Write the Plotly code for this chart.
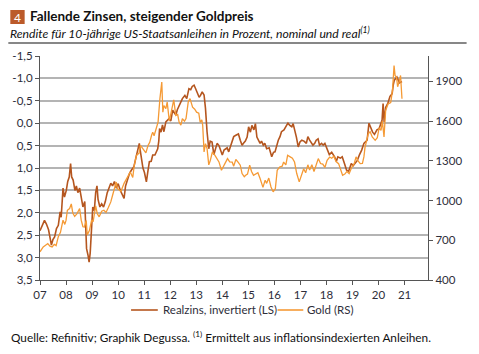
import plotly.graph_objects as go

# ---------------- data ----------------
realzins_dates = [
    "2007-01-01","2007-02-01","2007-03-05","2007-04-01","2007-05-01","2007-06-10","2007-07-01","2007-07-25",
    "2007-08-20","2007-09-15","2007-10-10","2007-10-25","2007-11-20","2007-12-10","2008-01-05","2008-01-25",
    "2008-02-15","2008-03-05","2008-03-20","2008-04-10","2008-05-05","2008-05-25","2008-06-15","2008-07-10",
    "2008-08-05","2008-08-25","2008-09-20","2008-10-15","2008-11-05","2008-11-20","2008-12-05","2008-12-20",
    "2009-01-10","2009-02-01","2009-02-20","2009-03-10","2009-03-25","2009-04-20","2009-05-15","2009-06-10",
    "2009-07-05","2009-08-01","2009-08-25","2009-09-20","2009-10-15","2009-11-10","2009-12-05","2010-01-01",
    "2010-02-01","2010-03-25","2010-04-15","2010-05-10","2010-06-10","2010-07-05","2010-07-25","2010-08-10",
    "2010-09-10","2010-10-10","2010-10-25","2010-11-10","2010-12-15","2011-01-05","2011-02-01","2011-02-20",
    "2011-03-15","2011-04-10","2011-05-01","2011-06-01","2011-06-20","2011-07-10","2011-07-25","2011-08-05",
    "2011-08-25","2011-09-15","2011-10-05","2011-11-01","2011-12-15","2012-01-10","2012-02-05","2012-03-20",
    "2012-04-10","2012-05-05","2012-06-20","2012-07-25","2012-08-20","2012-09-20","2012-10-15","2012-11-05",
    "2012-12-01","2012-12-20","2013-01-15","2013-02-10","2013-03-01","2013-03-25","2013-04-20","2013-05-10",
    "2013-06-01","2013-06-25","2013-07-15","2013-08-10","2013-09-05","2013-09-28","2013-10-20","2013-11-15",
    "2013-12-05","2014-01-01","2014-01-25","2014-02-15","2014-03-10","2014-04-01","2014-05-15","2014-06-10",
    "2014-07-10","2014-08-15","2014-09-10","2014-10-05","2014-10-25","2014-11-20","2014-12-15","2015-01-05",
    "2015-01-30","2015-02-20","2015-03-20","2015-04-10","2015-05-01","2015-06-15","2015-07-05","2015-07-30",
    "2015-08-20","2015-09-15","2015-10-20","2015-11-05","2015-11-25","2015-12-20","2016-01-10","2016-02-25",
    "2016-03-20","2016-04-10","2016-05-15","2016-06-20","2016-07-10","2016-08-05","2016-09-01","2016-09-20",
    "2016-10-15","2016-11-05","2016-12-01","2016-12-25","2017-01-20","2017-02-20","2017-03-25","2017-04-15",
    "2017-05-10","2017-06-25","2017-07-20","2017-08-10","2017-09-05","2017-09-25","2017-10-25","2017-11-15",
    "2017-12-10","2018-01-01","2018-02-10","2018-03-15","2018-04-25","2018-05-20","2018-06-10","2018-07-15",
    "2018-08-10","2018-09-10","2018-10-10","2018-11-08","2018-11-25","2018-12-15","2019-01-10","2019-03-10",
    "2019-04-10","2019-05-10","2019-06-10","2019-07-25","2019-08-20","2019-09-15","2019-10-10","2019-11-05",
    "2019-12-10","2020-01-10","2020-02-20","2020-03-05","2020-03-20","2020-04-10","2020-05-10","2020-06-10",
    "2020-07-10","2020-07-25","2020-08-10","2020-09-15","2020-10-20","2020-11-25",
]
realzins = [
    2.40, 2.30, 2.17, 2.25, 2.38, 2.72, 2.60, 2.54,
    2.35, 2.28, 1.98, 2.10, 1.45, 1.65, 1.50, 1.30,
    1.20, 0.90, 1.20, 1.27, 1.50, 1.40, 1.55, 1.45,
    1.70, 1.87, 1.75, 2.80, 2.95, 3.10, 2.90, 2.30,
    1.87, 1.95, 1.55, 1.40, 1.70, 1.87, 1.80, 1.87,
    1.75, 1.55, 1.45, 1.34, 1.40, 1.30, 1.45, 1.35,
    1.50, 1.68, 1.40, 1.27, 1.12, 1.05, 1.01, 0.97,
    0.75, 0.49, 0.45, 0.64, 1.00, 1.10, 1.31, 1.10,
    0.86, 0.85, 0.71, 0.71, 0.65, 0.57, 0.40, 0.12,
    0.20, 0.04, 0.19, -0.03, -0.10, -0.05, -0.29, -0.18,
    -0.30, -0.40, -0.55, -0.62, -0.55, -0.77, -0.75, -0.82,
    -0.85, -0.78, -0.66, -0.58, -0.62, -0.70, -0.63, -0.33,
    0.19, 0.57, 0.40, 0.42, 0.70, 0.57, 0.45, 0.50,
    0.60, 0.71, 0.60, 0.57, 0.55, 0.64, 0.42, 0.30,
    0.27, 0.24, 0.38, 0.49, 0.45, 0.40, 0.31, 0.08,
    0.20, 0.05, 0.15, 0.01, 0.31, 0.45, 0.40, 0.49,
    0.45, 0.57, 0.55, 0.64, 0.75, 0.65, 0.64, 0.38,
    0.30, 0.19, 0.15, 0.05, 0.00, 0.05, 0.08, 0.01,
    0.15, 0.31, 0.53, 0.42, 0.38, 0.40, 0.45, 0.30,
    0.38, 0.49, 0.45, 0.38, 0.35, 0.49, 0.45, 0.49,
    0.45, 0.53, 0.70, 0.65, 0.75, 0.85, 0.75, 0.78,
    0.75, 0.90, 1.05, 1.07, 1.00, 0.90, 0.95, 0.83,
    0.70, 0.60, 0.45, 0.38, 0.00, 0.12, 0.20, 0.25,
    0.15, 0.12, -0.07, -0.44, -0.03, -0.35, -0.44, -0.60,
    -0.66, -0.85, -0.96, -1.03, -0.90, -0.93,
]

gold_dates = [
    "2007-01-01","2007-02-15","2007-03-20","2007-04-20","2007-05-20","2007-06-20","2007-07-20","2007-08-15",
    "2007-09-15","2007-10-15","2007-11-20","2007-12-15","2008-01-01","2008-01-20","2008-02-20","2008-03-15",
    "2008-04-05","2008-05-01","2008-06-01","2008-07-10","2008-08-01","2008-08-25","2008-09-15","2008-10-10",
    "2008-10-25","2008-11-25","2008-12-25","2009-01-15","2009-02-20","2009-03-15","2009-04-10","2009-05-15",
    "2009-06-15","2009-07-15","2009-08-15","2009-09-20","2009-10-15","2009-11-20","2009-12-05","2009-12-20",
    "2010-01-15","2010-02-10","2010-03-25","2010-04-25","2010-05-20","2010-06-20","2010-07-25","2010-08-15",
    "2010-09-15","2010-10-20","2010-11-10","2010-12-15","2011-01-25","2011-02-25","2011-03-20","2011-04-15",
    "2011-05-01","2011-05-20","2011-06-15","2011-07-15","2011-08-10","2011-08-25","2011-09-05","2011-09-20",
    "2011-10-05","2011-11-01","2011-11-20","2011-12-20","2012-01-15","2012-02-20","2012-03-20","2012-04-15",
    "2012-05-05","2012-05-30","2012-06-20","2012-07-20","2012-08-10","2012-09-10","2012-10-05","2012-11-10",
    "2012-12-10","2013-01-05","2013-02-05","2013-02-25","2013-03-20","2013-04-01","2013-04-20","2013-05-10",
    "2013-06-01","2013-06-25","2013-07-15","2013-08-15","2013-09-20","2013-10-20","2013-11-15","2013-12-20",
    "2014-01-20","2014-02-15","2014-03-15","2014-04-15","2014-05-20","2014-06-10","2014-07-10","2014-08-10",
    "2014-09-10","2014-10-05","2014-11-05","2014-11-25","2014-12-20","2015-01-20","2015-02-15","2015-03-15",
    "2015-04-15","2015-05-15","2015-06-15","2015-07-25","2015-08-25","2015-09-15","2015-10-15","2015-11-15",
    "2015-12-15","2016-01-15","2016-02-10","2016-03-15","2016-04-20","2016-05-10","2016-06-10","2016-07-05",
    "2016-08-10","2016-09-10","2016-10-10","2016-11-10","2016-12-15","2017-01-15","2017-02-15","2017-03-15",
    "2017-04-15","2017-05-10","2017-06-10","2017-07-10","2017-08-15","2017-09-08","2017-10-10","2017-11-10",
    "2017-12-10","2018-01-10","2018-02-15","2018-03-15","2018-04-15","2018-05-15","2018-06-20","2018-07-15",
    "2018-08-15","2018-09-15","2018-10-15","2018-11-15","2018-12-20","2019-01-25","2019-02-20","2019-03-20",
    "2019-04-20","2019-05-20","2019-06-10","2019-06-25","2019-07-20","2019-08-10","2019-09-05","2019-10-05",
    "2019-11-15","2019-12-15","2020-01-10","2020-02-05","2020-02-24","2020-03-18","2020-04-10","2020-05-15",
    "2020-06-20","2020-07-15","2020-08-06","2020-08-20","2020-09-10","2020-09-25","2020-10-15","2020-11-05",
    "2020-11-25",
]
gold = [
    613, 650, 663, 675, 655, 650, 670, 660,
    727, 760, 852, 820, 850, 927, 940, 975,
    905, 880, 900, 940, 852, 802, 800, 850,
    740, 776, 852, 840, 960, 900, 877, 920,
    927, 910, 945, 990, 1040, 1110, 1140, 1090,
    1080, 1070, 1130, 1160, 1175, 1216, 1175, 1266,
    1342, 1357, 1417, 1390, 1360, 1417, 1440, 1493,
    1517, 1490, 1530, 1593, 1770, 1845, 1895, 1668,
    1718, 1694, 1744, 1600, 1668, 1760, 1643, 1650,
    1593, 1570, 1618, 1600, 1620, 1744, 1770, 1706,
    1690, 1668, 1660, 1590, 1610, 1568, 1367, 1430,
    1393, 1270, 1300, 1367, 1342, 1317, 1292, 1229,
    1260, 1292, 1317, 1292, 1290, 1260, 1310, 1291,
    1267, 1204, 1180, 1191, 1200, 1267, 1220, 1191,
    1200, 1210, 1166, 1100, 1154, 1130, 1170, 1103,
    1066, 1090, 1229, 1254, 1260, 1291, 1270, 1342,
    1330, 1320, 1291, 1204, 1141, 1200, 1240, 1210,
    1270, 1230, 1270, 1220, 1280, 1317, 1280, 1275,
    1250, 1304, 1329, 1320, 1335, 1295, 1279, 1240,
    1191, 1200, 1220, 1204, 1250, 1279, 1330, 1300,
    1279, 1280, 1330, 1400, 1455, 1505, 1520, 1480,
    1455, 1475, 1550, 1530, 1600, 1480, 1681, 1731,
    1740, 1832, 2020, 1945, 1930, 1860, 1895, 1945,
    1769,
]

left_ticks = [-1.5, -1.0, -0.5, 0.0, 0.5, 1.0, 1.5, 2.0, 2.5, 3.0, 3.5]
left_ticktext = ["-1,5", "-1,0", "-0,5", "0,0", "0,5", "1,0", "1,5", "2,0", "2,5", "3,0", "3,5"]
right_ticks = [400, 700, 1000, 1300, 1600, 1900]
year_ticks = [f"{y}-01-01" for y in range(2007, 2022)]
year_ticktext = [f"{y % 100:02d}" for y in range(2007, 2022)]

series_names = ["Realzins, invertiert (LS)", "Gold (RS)"]
title_text = "Fallende Zinsen, steigender Goldpreis"
subtitle_text = "Rendite für 10-jährige US-Staatsanleihen in Prozent, nominal und real<sup>(1)</sup>"
source_text = "Quelle: Refinitiv; Graphik Degussa. <sup>(1)</sup> Ermittelt aus inflationsindexierten Anleihen."

# ---------------- layout geometry ----------------
W, H = 479, 354
L, R, T, B = 36, 428, 56, 280
BROWN = "#b5561f"
ORANGE = "#f59a35"
TXT = "#2e2e3a"
FONT = "Lato, 'Open Sans', sans-serif"


def px(x):
    return (x - L) / (R - L)


def py(y):
    return (B - y) / (B - T)


fig = go.Figure()
fig.add_trace(go.Scatter(x=realzins_dates, y=realzins, name=series_names[0], mode="lines",
                         line=dict(color=BROWN, width=1.6), yaxis="y", showlegend=False))
fig.add_trace(go.Scatter(x=gold_dates, y=gold, name=series_names[1], mode="lines",
                         line=dict(color=ORANGE, width=1.3), yaxis="y2", showlegend=False))

fig.update_layout(
    width=W, height=H,
    margin=dict(l=L, r=W - R, t=T, b=H - B, pad=0),
    paper_bgcolor="white", plot_bgcolor="white",
    font=dict(family=FONT, size=11, color=TXT),
    showlegend=False,
    xaxis=dict(type="date", range=["2007-01-01", "2021-11-25"], tickvals=year_ticks,
               ticktext=year_ticktext, ticks="outside", ticklen=4, tickcolor="#555",
               showline=True, linecolor="#555", linewidth=1.2, showgrid=False, zeroline=False,
               tickfont=dict(size=11.5, color=TXT)),
    yaxis=dict(range=[3.5, -1.5], tickvals=left_ticks, ticktext=left_ticktext,
               ticks="outside", ticklen=4, tickcolor="#555", showline=True, linecolor="#555",
               linewidth=1.2, showgrid=True, gridcolor="#b4b4b4", gridwidth=1.5, zeroline=False,
               tickfont=dict(size=11.5, color=TXT)),
    yaxis2=dict(range=[400, 2092], tickvals=right_ticks, overlaying="y", side="right",
                ticks="outside", ticklen=4, tickcolor="#555", showline=True, linecolor="#555",
                linewidth=1.2, showgrid=False, zeroline=False, tickfont=dict(size=11.5, color=TXT)),
)

# legend (drawn by hand to match the short line samples of the reference)
legend_items = [(series_names[0], BROWN, 128, 155, 158), (series_names[1], ORANGE, 276, 302, 304)]
for name, col, lx0, lx1, tx in legend_items:
    fig.add_shape(type="line", xref="paper", yref="paper", x0=px(lx0), x1=px(lx1),
                  y0=py(310), y1=py(310), line=dict(color=col, width=1.6))
    fig.add_annotation(xref="paper", yref="paper", x=px(tx), y=py(309.5), text=name,
                       showarrow=False, xanchor="left", yanchor="middle",
                       font=dict(size=11.5, color=TXT, family=FONT))

# header box, title, subtitle, rule, source
fig.add_shape(type="rect", xref="paper", yref="paper", x0=px(6), x1=px(20.5), y0=py(24), y1=py(10),
              fillcolor="#bb5a2a", line=dict(width=0))
fig.add_annotation(xref="paper", yref="paper", x=px(13.2), y=py(17), text="4", showarrow=False,
                   font=dict(size=12, color="white", family=FONT), xanchor="center", yanchor="middle")
fig.add_annotation(xref="paper", yref="paper", x=px(24), y=py(16.5), text="<b>" + title_text + "</b>",
                   showarrow=False, xanchor="left", yanchor="middle",
                   font=dict(size=13.5, color="#111", family=FONT))
fig.add_annotation(xref="paper", yref="paper", x=px(4), y=py(33), text="<i>" + subtitle_text + "</i>",
                   showarrow=False, xanchor="left", yanchor="middle",
                   font=dict(size=12.2, color="#111", family=FONT))
fig.add_shape(type="line", xref="paper", yref="paper", x0=px(4), x1=px(467), y0=py(43), y1=py(43),
              line=dict(color="#111", width=1.2))
fig.add_annotation(xref="paper", yref="paper", x=px(5), y=py(337), text=source_text,
                   showarrow=False, xanchor="left", yanchor="middle",
                   font=dict(size=11.8, color="#111", family=FONT))

fig.write_html("out.html")
